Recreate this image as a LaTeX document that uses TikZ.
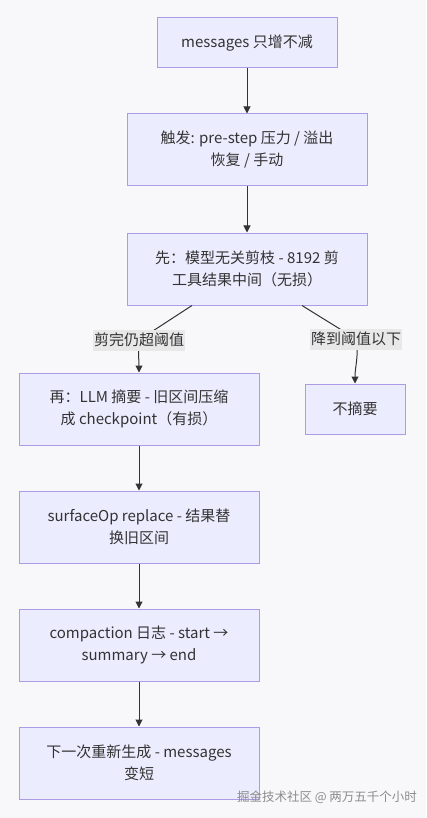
\documentclass[tikz,border=0pt]{standalone}
\usepackage{fontspec}
\setmainfont{Noto Sans CJK SC}
\usetikzlibrary{arrows.meta}
\definecolor{bgc}{HTML}{F8F8FA}
\definecolor{boxfill}{HTML}{ECECFF}
\definecolor{boxdraw}{HTML}{AC9CE6}
\definecolor{txt}{HTML}{333333}
\definecolor{lblbg}{HTML}{E8E8E8}
\tikzset{
  x=1pt,y=-1pt,
  box/.style={draw=boxdraw, fill=boxfill, line width=1pt, text=txt, align=center,
    font=\fontsize{15}{22}\selectfont, inner sep=0pt},
  wide/.style={box, minimum width=240pt, minimum height=72pt},
  edge/.style={draw=txt, line width=1pt, -{Triangle[length=7pt,width=7pt]}},
  lbl/.style={fill=lblbg, text=txt, font=\fontsize{15}{18}\selectfont,
    inner xsep=1pt, inner ysep=2pt, minimum height=21pt}
}
\begin{document}
\begin{tikzpicture}
\fill[bgc] (0,0) rectangle (426,818);
\useasboundingbox (0,0) rectangle (426,818);

\node[box, minimum width=180pt, minimum height=50pt] (b1) at (247,43) {messages 只增不减};
\node[wide] (b2) at (247,150) {触发: pre-step 压力 / 溢出\\恢复 / 手动};
\node[wide] (b3) at (247,269) {先：模型无关剪枝 - 8192 剪\\工具结果中间（无损）};
\node[wide] (b4) at (139,409) {再：LLM 摘要 - 旧区间压缩\\成 checkpoint（有损）};
\node[box, minimum width=100pt, minimum height=50pt] (b5) at (355,409) {不摘要};
\node[wide] (b6) at (139,527) {surfaceOp replace - 结果替\\换旧区间};
\node[wide] (b7) at (139,645) {compaction 日志 - start →\\summary → end};
\node[wide] (b8) at (139,763) {下一次重新生成 - messages\\变短};

\coordinate (l1p) at (139,340);
\coordinate (l2p) at (356,339);

\draw[edge] (b1) -- (b2);
\draw[edge] (b2) -- (b3);
\draw[edge] ([xshift=-55pt]b3.south) to[out=-147,in=33] (l1p) to[out=-95,in=90] (b4.north);
\draw[edge] ([xshift=55pt]b3.south) to[out=-32,in=148] (l2p) to[out=-80,in=90] (b5.north);
\draw[edge] (b4) -- (b6);
\draw[edge] (b6) -- (b7);
\draw[edge] (b7) -- (b8);

\node[lbl] (l1) at (l1p) {剪完仍超阈值};
\node[lbl] (l2) at (l2p) {降到阈值以下};

\node[text=black!45, font=\fontsize{12.5}{14}\selectfont] (wm) at (327,797) {掘金技术社区 @ 两万五千个小时};
\end{tikzpicture}
\end{document}
